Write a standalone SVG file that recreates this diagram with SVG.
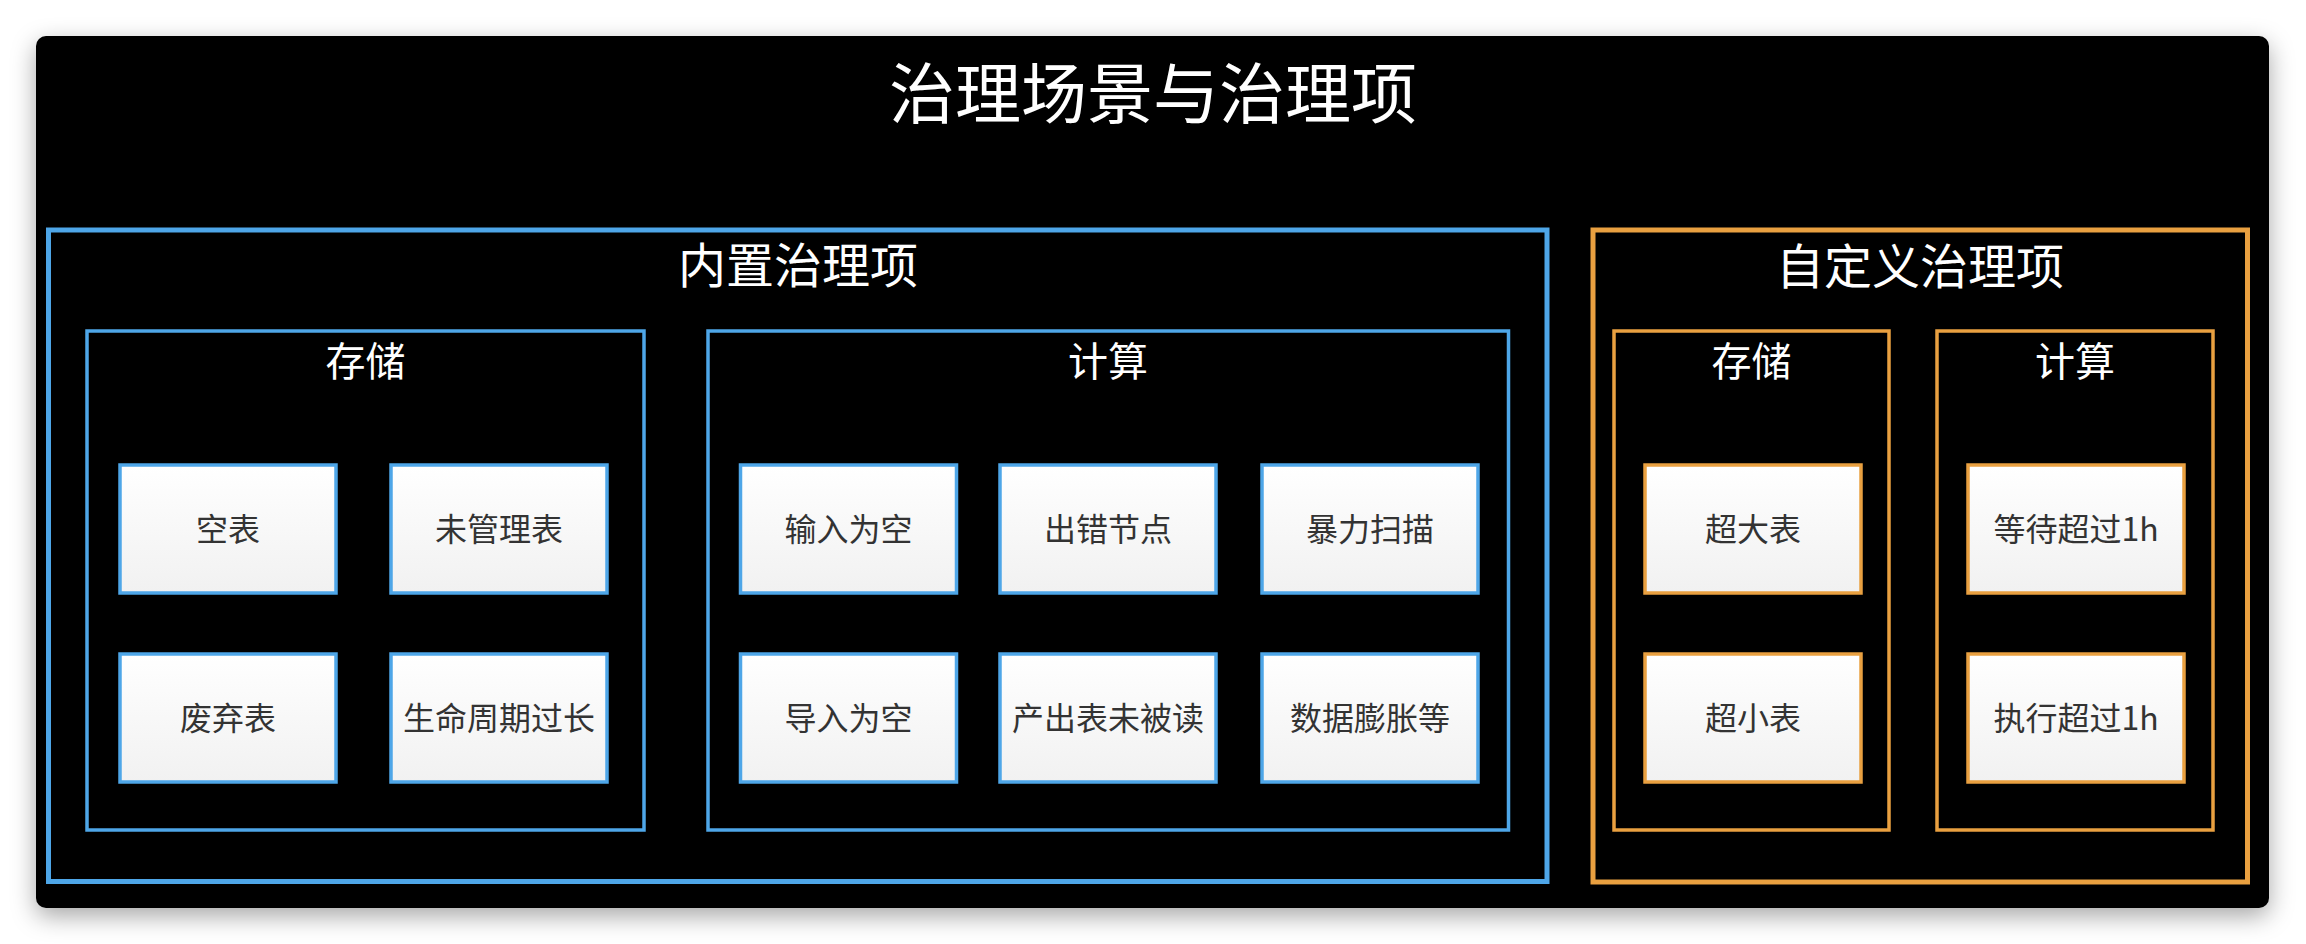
<svg xmlns="http://www.w3.org/2000/svg" width="2306" height="944" viewBox="0 0 2306 944">
  <defs>
    <linearGradient id="nodeFill" x1="0" y1="0" x2="0" y2="1">
      <stop offset="0" stop-color="#ffffff"/>
      <stop offset="1" stop-color="#f1f1f1"/>
    </linearGradient>
    <filter id="shadow" x="-5%" y="-10%" width="110%" height="125%">
      <feDropShadow dx="0" dy="8" stdDeviation="12" flood-color="#000" flood-opacity="0.35"/>
    </filter>
  </defs>
  <style>
    .frame-blue { fill: none; stroke: #4ea6e8; }
    .frame-orange { fill: none; stroke: #e9a040; }
    .node-blue { fill: url(#nodeFill); stroke: #4ea6e8; stroke-width: 3.5; }
    .node-orange { fill: url(#nodeFill); stroke: #e9a040; stroke-width: 3.5; }
    .title { font-family: "Noto Sans CJK SC", "Noto Sans", sans-serif; fill: #ffffff; text-anchor: middle; }
    .label { font-family: "Noto Sans CJK SC", "Noto Sans", sans-serif; fill: #333333; font-size: 32px; text-anchor: middle; }
  </style>
  <rect x="0" y="0" width="2306" height="944" fill="#ffffff"/>
  <rect x="36" y="36" width="2233" height="872" rx="10" ry="10" fill="#000000" filter="url(#shadow)"/>
  <text class="title" x="1153" y="118" font-size="66">治理场景与治理项</text>

  <g id="builtin">
    <rect class="frame-blue" x="48.5" y="230" width="1498.5" height="651.5" stroke-width="5"/>
    <text class="title" x="798" y="283" font-size="48">内置治理项</text>
  </g>
  <g id="builtin-storage">
    <rect class="frame-blue" x="87" y="331" width="557" height="499" stroke-width="3.5"/>
    <text class="title" x="365.5" y="376" font-size="40">存储</text>
  </g>
  <g id="builtin-compute">
    <rect class="frame-blue" x="708" y="331" width="800.5" height="499" stroke-width="3.5"/>
    <text class="title" x="1108" y="376" font-size="40">计算</text>
  </g>
  <g id="custom">
    <rect class="frame-orange" x="1593" y="230" width="654.5" height="652" stroke-width="5"/>
    <text class="title" x="1920" y="284" font-size="48">自定义治理项</text>
  </g>
  <g id="custom-storage">
    <rect class="frame-orange" x="1614" y="331" width="275" height="499" stroke-width="3.5"/>
    <text class="title" x="1751.5" y="376" font-size="40">存储</text>
  </g>
  <g id="custom-compute">
    <rect class="frame-orange" x="1937" y="331" width="276" height="499" stroke-width="3.5"/>
    <text class="title" x="2075" y="376" font-size="40">计算</text>
  </g>

  <g id="n-empty-table"><rect class="node-blue" x="120" y="465" width="216" height="128"/><text class="label" x="228" y="541">空表</text></g>
  <g id="n-unmanaged-table"><rect class="node-blue" x="391" y="465" width="216" height="128"/><text class="label" x="499" y="541">未管理表</text></g>
  <g id="n-abandoned-table"><rect class="node-blue" x="120" y="654" width="216" height="128"/><text class="label" x="228" y="730">废弃表</text></g>
  <g id="n-lifecycle-long"><rect class="node-blue" x="391" y="654" width="216" height="128"/><text class="label" x="499" y="730">生命周期过长</text></g>

  <g id="n-input-empty"><rect class="node-blue" x="740.5" y="465" width="216" height="128"/><text class="label" x="848.5" y="541">输入为空</text></g>
  <g id="n-error-node"><rect class="node-blue" x="1000" y="465" width="216" height="128"/><text class="label" x="1108" y="541">出错节点</text></g>
  <g id="n-brute-scan"><rect class="node-blue" x="1262" y="465" width="216" height="128"/><text class="label" x="1370" y="541">暴力扫描</text></g>
  <g id="n-import-empty"><rect class="node-blue" x="740.5" y="654" width="216" height="128"/><text class="label" x="848.5" y="730">导入为空</text></g>
  <g id="n-output-unread"><rect class="node-blue" x="1000" y="654" width="216" height="128"/><text class="label" x="1108" y="730">产出表未被读</text></g>
  <g id="n-data-bloat"><rect class="node-blue" x="1262" y="654" width="216" height="128"/><text class="label" x="1370" y="730">数据膨胀等</text></g>

  <g id="n-huge-table"><rect class="node-orange" x="1645" y="465" width="216" height="128"/><text class="label" x="1753" y="541">超大表</text></g>
  <g id="n-tiny-table"><rect class="node-orange" x="1645" y="654" width="216" height="128"/><text class="label" x="1753" y="730">超小表</text></g>
  <g id="n-wait-1h"><rect class="node-orange" x="1968" y="465" width="216" height="128"/><text class="label" x="2076" y="541">等待超过1h</text></g>
  <g id="n-run-1h"><rect class="node-orange" x="1968" y="654" width="216" height="128"/><text class="label" x="2076" y="730">执行超过1h</text></g>

  <g id="connectors"/>
</svg>
